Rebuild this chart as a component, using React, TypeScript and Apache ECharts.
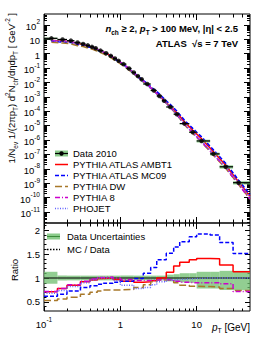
import React, { useEffect, useRef } from "react";
import * as echarts from "echarts";

const FONT = "'Liberation Sans', Arial, Helvetica, sans-serif";

// ---- Top panel: measured spectrum (bin centre, bin edges, value) ----
const dataPt = [0.125, 0.175, 0.225, 0.275, 0.325, 0.375, 0.425, 0.475, 0.55, 0.65, 0.75, 0.85, 0.95, 1.1, 1.3, 1.5, 1.7, 1.9, 2.25, 2.75, 3.25, 3.75, 4.5, 5.5, 6.9, 8.9, 11.6, 16.6, 24, 35.5];
const dataLo = [0.1, 0.15, 0.2, 0.25, 0.3, 0.35, 0.4, 0.45, 0.5, 0.6, 0.7, 0.8, 0.9, 1.0, 1.2, 1.4, 1.6, 1.8, 2.0, 2.5, 3, 3.5, 4, 5, 6, 8, 10, 15, 20, 30];
const dataHi = [0.15, 0.2, 0.25, 0.3, 0.35, 0.4, 0.45, 0.5, 0.6, 0.7, 0.8, 0.9, 1.0, 1.2, 1.4, 1.6, 1.8, 2.0, 2.5, 3, 3.5, 4, 5, 6, 8, 10, 15, 20, 30, 50];
const dataVal = [11.7, 9.8, 8.1, 6.0, 4.8, 3.8, 3.0, 2.4, 1.65, 1.07, 0.71, 0.47, 0.32, 0.19, 0.095, 0.05, 0.028, 0.017, 0.0079, 0.0028, 0.00117, 0.00054, 0.0002, 6.3e-5, 1.4e-5, 3.5e-6, 8.7e-7, 1.1e-7, 1.4e-8, 1.1e-9];
// MC curves continue to the upper edge of the last bin
const mcTailPt = 50;
const mcTailVal = 1.1e-10;

// ---- Ratio panel: MC / Data per bin ----
const ratioEdges = [0.1, 0.15, 0.2, 0.3, 0.4, 0.5, 0.6, 0.8, 1.0, 1.5, 2, 2.5, 3, 4, 5, 6, 8, 10, 15, 20, 30, 50];
const ratioAMBT1 = [0.71, 0.78, 0.85, 0.92, 0.96, 0.99, 1.0, 0.97, 0.93, 0.91, 0.92, 0.94, 1.0, 1.12, 1.25, 1.33, 1.38, 1.41, 1.40, 1.27, 1.13];
const ratioMC09 = [0.62, 0.66, 0.73, 0.80, 0.84, 0.87, 0.89, 0.91, 0.93, 0.99, 1.1, 1.22, 1.38, 1.52, 1.65, 1.76, 1.86, 1.92, 1.90, 1.74, 1.51];
const ratioDW = [0.53, 0.56, 0.6, 0.66, 0.7, 0.73, 0.75, 0.75, 0.76, 0.8, 0.86, 0.92, 0.96, 0.95, 0.9, 0.85, 0.83, 0.82, 0.81, 0.78, 0.74];
const ratioPY8 = [0.72, 0.78, 0.86, 0.93, 0.98, 1.01, 1.02, 1.0, 0.97, 0.95, 0.95, 0.96, 0.97, 0.96, 0.93, 0.91, 0.9, 0.9, 0.9, 0.88, 0.72];
const ratioPHOJET = [0.68, 0.74, 0.82, 0.9, 0.96, 1.0, 1.0, 0.95, 0.85, 0.78, 0.8, 0.86, 0.92, 0.96, 0.97, 0.98, 0.99, 1.0, 1.0, 1.0, 1.0];
const uncUp = [1.13, 1.05, 1.05, 1.05, 1.05, 1.05, 1.05, 1.05, 1.05, 1.05, 1.05, 1.05, 1.05, 1.07, 1.08, 1.1, 1.1, 1.13, 1.13, 1.15, 1.15];
const uncDown = [0.88, 0.95, 0.95, 0.95, 0.95, 0.95, 0.95, 0.95, 0.95, 0.95, 0.95, 0.95, 0.95, 0.93, 0.92, 0.91, 0.9, 0.78, 0.78, 0.75, 0.75];

// ---- Axis ticks / labels ----
const xMajor = [0.1, 1, 10];
const xMinor = [0.2, 0.3, 0.4, 0.5, 0.6, 0.7, 0.8, 0.9, 2, 3, 4, 5, 6, 7, 8, 9, 20, 30, 40];
const yTopMajor = [1e-11, 1e-10, 1e-9, 1e-8, 1e-7, 1e-6, 1e-5, 1e-4, 1e-3, 1e-2, 1e-1, 1, 10, 100];
const yTopMinor: number[] = [];
for (let e = -12; e <= 2; e++) for (let k = 2; k <= 9; k++) yTopMinor.push(k * Math.pow(10, e));
const ratioMajor = [0.5, 1, 1.5, 2];
const ratioMinor = [0.4, 0.6, 0.7, 0.8, 0.9, 1.1, 1.2, 1.3, 1.4, 1.6, 1.7, 1.8, 1.9, 2.1];

const X_MIN = 0.1, X_MAX = 50;
const Y_MIN = 1.74e-12, Y_MAX = 575;
const R_MIN = 0.31, R_MAX = 2.15;

const mcDefs = [
  { name: "PYTHIA ATLAS AMBT1", ratio: ratioAMBT1, color: "#ff0000", dash: "solid" as any },
  { name: "PYTHIA ATLAS MC09", ratio: ratioMC09, color: "#0000ff", dash: [4, 2] as any },
  { name: "PYTHIA DW", ratio: ratioDW, color: "#a8782a", dash: [7, 3] as any },
  { name: "PYTHIA 8", ratio: ratioPY8, color: "#cc00cc", dash: [5, 2, 1, 2] as any },
  { name: "PHOJET", ratio: ratioPHOJET, color: "#6464ff", dash: [1, 1.5] as any },
];

const binOf = (p: number) => {
  for (let i = 0; i < ratioEdges.length - 1; i++) if (p >= ratioEdges[i] && p < ratioEdges[i + 1]) return i;
  return ratioEdges.length - 2;
};

const fmtPow = (v: number) => {
  const n = Math.round(Math.log10(v));
  if (n === 0) return "{b|1}";
  if (n === 1) return "{b|10}";
  return "{b|10}{s|" + n + "}";
};
const powRich = {
  b: { fontSize: 9.5, fontFamily: FONT, color: "#000", lineHeight: 13, verticalAlign: "bottom" },
  s: { fontSize: 6.5, fontFamily: FONT, color: "#000", lineHeight: 8, verticalAlign: "top" },
};
const fmtRatio = (v: number) => String(Math.round(v * 10) / 10);

const tick = (vals: number[], len: number) => ({
  show: true, inside: true, length: len, customValues: vals,
  lineStyle: { color: "#000", width: 1 },
});

const xAx = (gridIndex: number, position: string, vals: number[], len: number, labels = false) => ({
  type: "log", logBase: 10, gridIndex, position, min: X_MIN, max: X_MAX,
  axisLine: { show: false }, splitLine: { show: false },
  axisTick: tick(vals, len),
  axisLabel: labels
    ? { show: true, customValues: xMajor, formatter: fmtPow, rich: powRich, margin: 5 }
    : { show: false },
});
const yLogAx = (position: string, vals: number[], len: number, labels = false) => ({
  type: "log", logBase: 10, gridIndex: 0, position, min: Y_MIN, max: Y_MAX,
  axisLine: { show: false }, splitLine: { show: false },
  axisTick: tick(vals, len),
  axisLabel: labels
    ? { show: true, customValues: yTopMajor, formatter: fmtPow, rich: powRich, margin: 4 }
    : { show: false },
});
const yRatAx = (position: string, vals: number[], len: number, labels = false) => ({
  type: "value", gridIndex: 1, position, min: R_MIN, max: R_MAX,
  axisLine: { show: false }, splitLine: { show: false },
  axisTick: tick(vals, len),
  axisLabel: labels
    ? { show: true, customValues: ratioMajor, formatter: fmtRatio, fontSize: 9.5, fontFamily: FONT, color: "#000", margin: 4 }
    : { show: false },
});

const subRich = (fs: number, bold = false) => ({
  n: { fontSize: fs, fontFamily: FONT, fontWeight: bold ? "bold" : "normal", color: "#000", lineHeight: 14, verticalAlign: "middle" },
  i: { fontSize: fs, fontFamily: FONT, fontStyle: "italic", fontWeight: bold ? "bold" : "normal", color: "#000", lineHeight: 14, verticalAlign: "middle" },
  sub: { fontSize: fs * 0.68, fontFamily: FONT, fontWeight: bold ? "bold" : "normal", color: "#000", lineHeight: 8, verticalAlign: "bottom" },
  sup: { fontSize: fs * 0.68, fontFamily: FONT, fontWeight: bold ? "bold" : "normal", color: "#000", lineHeight: 8, verticalAlign: "top" },
});

const textEl = (x: number, y: number, text: string, opts: any = {}) => ({
  type: "text", x, y, rotation: opts.rotation || 0,
  style: {
    text, fill: opts.fill || "#000", fontSize: opts.fontSize || 9.5, fontFamily: FONT, fontWeight: opts.fontWeight || "normal",
    align: opts.align || "left", textAlign: opts.align || "left",
    verticalAlign: "middle", textVerticalAlign: "middle", rich: opts.rich,
  },
});
const lineEl = (x1: number, y1: number, x2: number, y2: number, color: string, dash: any, width = 1.5) => ({
  type: "line", shape: { x1, y1, x2, y2 },
  style: { stroke: color, lineWidth: width, lineDash: dash === "solid" ? null : dash },
});

function buildOption() {
  const series: any[] = [];
  series.push({
    type: "custom", xAxisIndex: 4, yAxisIndex: 4, silent: true, z: 1,
    encode: { x: [0, 1], y: [2, 3] },
    data: uncUp.map((u, i) => [ratioEdges[i], ratioEdges[i + 1], uncDown[i], u]),
    renderItem: (params: any, api: any) => {
      const p0 = api.coord([api.value(0), api.value(3)]);
      const p1 = api.coord([api.value(1), api.value(2)]);
      return { type: "rect", shape: { x: p0[0], y: p0[1], width: p1[0] - p0[0], height: p1[1] - p0[1] }, style: { fill: "rgba(110,190,110,0.75)" } };
    },
  });
  series.push({
    type: "line", xAxisIndex: 4, yAxisIndex: 4, data: [[X_MIN, 1], [X_MAX, 1]], showSymbol: false,
    lineStyle: { color: "#000", width: 1 }, z: 2, silent: true,
  });
  for (const m of mcDefs) {
    const top = dataPt.map((p, i) => [p, dataVal[i] * m.ratio[binOf(p)]]);
    top.push([mcTailPt, mcTailVal * m.ratio[m.ratio.length - 1]]);
    series.push({
      name: m.name, type: "line", xAxisIndex: 0, yAxisIndex: 0, showSymbol: false, z: 3, silent: true,
      data: top,
      lineStyle: { color: m.color, width: 1.5, type: m.dash },
    });
    series.push({
      name: m.name + " ratio", type: "line", step: "end", xAxisIndex: 4, yAxisIndex: 4, showSymbol: false, z: 3, silent: true,
      data: ratioEdges.map((e, i) => [e, m.ratio[Math.min(i, m.ratio.length - 1)]]),
      lineStyle: { color: m.color, width: 1.5, type: m.dash },
    });
  }
  series.push({
    type: "custom", xAxisIndex: 0, yAxisIndex: 0, silent: true, z: 5,
    encode: { x: [0, 2, 3], y: 1 },
    data: dataPt.map((p, i) => {
      const b = binOf(p);
      const e = Math.max(uncUp[b] - 1, 1 - uncDown[b]);
      return [p, dataVal[i], dataLo[i], dataHi[i], dataVal[i] * (1 - e), dataVal[i] * (1 + e)];
    }),
    renderItem: (params: any, api: any) => {
      const a = api.coord([api.value(2), api.value(5)]);
      const b = api.coord([api.value(3), api.value(4)]);
      const c = api.coord([api.value(2), api.value(1)]);
      const d = api.coord([api.value(3), api.value(1)]);
      return {
        type: "group",
        children: [
          { type: "rect", shape: { x: a[0], y: a[1], width: b[0] - a[0], height: Math.max(b[1] - a[1], 1) }, style: { fill: "rgba(110,190,110,0.8)" } },
          { type: "line", shape: { x1: c[0], y1: c[1], x2: d[0], y2: d[1] }, style: { stroke: "#000", lineWidth: 1.2 } },
        ],
      };
    },
  });
  series.push({
    type: "scatter", xAxisIndex: 0, yAxisIndex: 0, z: 6, silent: true,
    data: dataPt.map((p, i) => [p, dataVal[i]]),
    symbol: "circle", symbolSize: 4.5, itemStyle: { color: "#000" },
  });

  const g: any[] = [];
  const lx1 = 55, lx2 = 68, tx = 73, ly0 = 153.5, dy = 11;
  g.push({ type: "rect", shape: { x: lx1, y: ly0 - 3, width: lx2 - lx1, height: 6 }, style: { fill: "rgba(110,190,110,0.8)" } });
  g.push(lineEl(lx1, ly0, lx2, ly0, "#000", "solid", 1.2));
  g.push({ type: "circle", shape: { cx: (lx1 + lx2) / 2, cy: ly0, r: 2.2 }, style: { fill: "#000" } });
  g.push(textEl(tx, ly0, "Data 2010"));
  mcDefs.forEach((m, k) => {
    const y = ly0 + dy * (k + 1);
    g.push(lineEl(lx1, y, lx2, y, m.color, m.dash));
    g.push(textEl(tx, y, m.name));
  });
  g.push({ type: "rect", shape: { x: 47, y: 233.5, width: 13, height: 6 }, style: { fill: "rgba(110,190,110,0.8)" } });
  g.push(lineEl(47, 236.5, 60, 236.5, "#3a8a3a", "solid", 1));
  g.push(textEl(67, 236.5, "Data Uncertainties"));
  g.push(lineEl(47, 249.5, 60, 249.5, "#000", [1.5, 1.5], 1.5));
  g.push(textEl(67, 249.5, "MC / Data"));
  g.push(textEl(238, 28, "{i|n}{sub|ch}{n| ≥ 2, }{i|p}{sub|T}{n| > 100 MeV, |η| < 2.5}", { align: "right", rich: subRich(9.5, true) }));
  g.push(textEl(238, 43.5, "ATLAS  √s = 7 TeV", { align: "right", fontWeight: "bold", fontSize: 9.5 }));
  g.push(textEl(250, 327, "{i|p}{sub|T}{n| [GeV]}", { align: "right", rich: subRich(10) }));
  g.push(textEl(11, 13, "{n|1/N}{sub|ev}{n| 1/(2πp}{sub|T}{n|) d}{sup|2}{n|N}{sub|ch}{n|/dηdp}{sub|T}{n| [ GeV}{sup|-2}{n| ]}", { align: "right", rotation: Math.PI / 2, rich: subRich(9.5) }));
  g.push(textEl(14, 270, "Ratio", { align: "center", rotation: Math.PI / 2, fontSize: 9.5 }));

  return {
    animation: false,
    backgroundColor: "#fff",
    grid: [
      { left: 44, top: 14, width: 206, height: 209, show: true, borderColor: "#000", borderWidth: 1, backgroundColor: "transparent" },
      { left: 44, top: 223, width: 206, height: 88, show: true, borderColor: "#000", borderWidth: 1, backgroundColor: "transparent" },
    ],
    xAxis: [
      xAx(0, "bottom", xMajor, 6),
      xAx(0, "bottom", xMinor, 3.5),
      xAx(0, "top", xMajor, 6),
      xAx(0, "top", xMinor, 3.5),
      xAx(1, "bottom", xMajor, 5, true),
      xAx(1, "bottom", xMinor, 2.5),
      xAx(1, "top", xMajor, 6),
      xAx(1, "top", xMinor, 3.5),
    ],
    yAxis: [
      yLogAx("left", yTopMajor, 6, true),
      yLogAx("left", yTopMinor, 3),
      yLogAx("right", yTopMajor, 6),
      yLogAx("right", yTopMinor, 3),
      yRatAx("left", ratioMajor, 5, true),
      yRatAx("left", ratioMinor, 2.5),
      yRatAx("right", ratioMajor, 5),
      yRatAx("right", ratioMinor, 2.5),
    ],
    series,
    graphic: g,
  };
}

export default function App() {
  const ref = useRef<HTMLDivElement>(null);
  useEffect(() => {
    const chart = echarts.init(ref.current!, null, { renderer: "svg" });
    chart.setOption(buildOption() as any);
    return () => chart.dispose();
  }, []);
  return <div ref={ref} style={{ position: "absolute", left: 0, top: 0, width: 266, height: 344 }} />;
}
